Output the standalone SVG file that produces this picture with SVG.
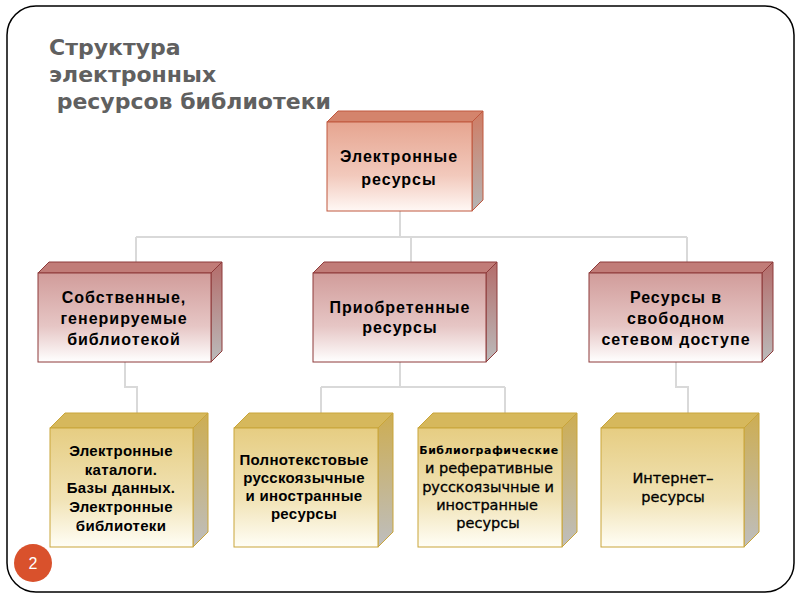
<svg xmlns="http://www.w3.org/2000/svg" width="800" height="600" viewBox="0 0 800 600">
<defs>
<linearGradient id="g0f" x1="0" y1="0" x2="0" y2="1"><stop offset="0" stop-color="#E6A590"/><stop offset="0.6" stop-color="#F2C9BC"/><stop offset="1" stop-color="#FFF8F5"/></linearGradient>
<linearGradient id="g0s" x1="0" y1="0" x2="0" y2="1"><stop offset="0" stop-color="#CF7C64"/><stop offset="1" stop-color="#B5B5B5"/></linearGradient>
<linearGradient id="g1f" x1="0" y1="0" x2="0" y2="1"><stop offset="0" stop-color="#D19C9A"/><stop offset="0.6" stop-color="#E6C6C5"/><stop offset="1" stop-color="#FFFFFF"/></linearGradient>
<linearGradient id="g1s" x1="0" y1="0" x2="0" y2="1"><stop offset="0" stop-color="#B46C6A"/><stop offset="1" stop-color="#BBBBBB"/></linearGradient>
<linearGradient id="g2f" x1="0" y1="0" x2="0" y2="1"><stop offset="0" stop-color="#E6CD82"/><stop offset="0.6" stop-color="#F1E3B6"/><stop offset="1" stop-color="#FFFEF6"/></linearGradient>
<linearGradient id="g2s" x1="0" y1="0" x2="0" y2="1"><stop offset="0" stop-color="#CDAD52"/><stop offset="1" stop-color="#BEBEBE"/></linearGradient>
</defs>
<style>
.frame{fill:#fff;stroke:#000;stroke-width:1.5}
.title{font-family:"DejaVu Sans",sans-serif;font-weight:bold;font-size:22px;fill:#606060}
.conn{fill:none;stroke:#D9D9D9;stroke-width:2}
.t0 .f{fill:url(#g0f)} .t0 .s{fill:url(#g0s)} .t0 .p{fill:#D4846C}
.t0 polygon,.t0 rect{stroke:#C0583F;stroke-width:1}
.t1 .f{fill:url(#g1f)} .t1 .s{fill:url(#g1s)} .t1 .p{fill:#C17C78}
.t1 polygon,.t1 rect{stroke:#8E3B3B;stroke-width:1}
.t2 .f{fill:url(#g2f)} .t2 .s{fill:url(#g2s)} .t2 .p{fill:#D6B85C}
.t2 polygon,.t2 rect{stroke:#C9A53A;stroke-width:1}
.lb{font-family:"Liberation Sans",Arial,sans-serif;font-weight:bold;font-size:16px;fill:#000;text-anchor:middle;letter-spacing:1px}
.lc{font-family:"Liberation Sans",Arial,sans-serif;font-weight:bold;font-size:15px;fill:#000;text-anchor:middle;letter-spacing:0.3px}
.ld{font-family:"DejaVu Sans",sans-serif;font-size:14.5px;fill:#000;stroke:#000;stroke-width:0.3;text-anchor:middle}
.ls{font-family:"DejaVu Sans",sans-serif;font-weight:bold;font-size:11px;fill:#000;text-anchor:middle}
</style>
<rect class="frame" x="7" y="6" width="787" height="586" rx="29" ry="29"/>
<text class="title"><tspan x="49" y="55">Структура</tspan><tspan x="49" y="82">электронных</tspan><tspan x="49" y="109"> ресурсов библиотеки</tspan></text>

<g id="connectors">
<path class="conn" d="M400 211V237M136 237H687M136 237V262M411 237V262M687 237V262"/>
<path class="conn" d="M125 362V387H137V413"/>
<path class="conn" d="M400 362V387M321 387H505M321 387V413M505 387V413"/>
<path class="conn" d="M676 362V387H688V413"/>
</g>

<g id="n0" class="t0">
<polygon class="p" points="327,122 338,111 483,111 472,122"/>
<polygon class="s" points="472,122 483,111 483,200 472,211"/>
<rect class="f" x="327" y="122" width="145" height="89"/>
<text class="lb" font-size="17" letter-spacing="1.3"><tspan x="399" y="162">Электронные</tspan><tspan x="399" y="185">ресурсы</tspan></text>
</g>

<g id="n1" class="t1">
<polygon class="p" points="38,273 49,262 222,262 211,273"/>
<polygon class="s" points="211,273 222,262 222,351 211,362"/>
<rect class="f" x="38" y="273" width="173" height="89"/>
<text class="lb"><tspan x="124" y="303">Собственные,</tspan><tspan x="124" y="324">генерируемые</tspan><tspan x="124" y="345">библиотекой</tspan></text>
</g>

<g id="n2" class="t1">
<polygon class="p" points="313,273 324,262 497,262 486,273"/>
<polygon class="s" points="486,273 497,262 497,351 486,362"/>
<rect class="f" x="313" y="273" width="173" height="89"/>
<text class="lb"><tspan x="400" y="313">Приобретенные</tspan><tspan x="400" y="333">ресурсы</tspan></text>
</g>

<g id="n3" class="t1">
<polygon class="p" points="589,273 600,262 773,262 762,273"/>
<polygon class="s" points="762,273 773,262 773,351 762,362"/>
<rect class="f" x="589" y="273" width="173" height="89"/>
<text class="lb"><tspan x="676" y="303">Ресурсы в</tspan><tspan x="676" y="324">свободном</tspan><tspan x="676" y="345">сетевом доступе</tspan></text>
</g>

<g id="n4" class="t2">
<polygon class="p" points="50,428 65,413 208,413 193,428"/>
<polygon class="s" points="193,428 208,413 208,532 193,547"/>
<rect class="f" x="50" y="428" width="143" height="119"/>
<text class="lc"><tspan x="121" y="456">Электронные</tspan><tspan x="121" y="475">каталоги.</tspan><tspan x="121" y="493">Базы данных.</tspan><tspan x="121" y="512">Электронные</tspan><tspan x="121" y="531">библиотеки</tspan></text>
</g>

<g id="n5" class="t2">
<polygon class="p" points="234,428 249,413 393,413 378,428"/>
<polygon class="s" points="378,428 393,413 393,532 378,547"/>
<rect class="f" x="234" y="428" width="144" height="119"/>
<text class="lc"><tspan x="304" y="465">Полнотекстовые</tspan><tspan x="304" y="483">русскоязычные</tspan><tspan x="304" y="501">и иностранные</tspan><tspan x="304" y="519">ресурсы</tspan></text>
</g>

<g id="n6" class="t2">
<polygon class="p" points="418,428 433,413 577,413 562,428"/>
<polygon class="s" points="562,428 577,413 577,532 562,547"/>
<rect class="f" x="418" y="428" width="144" height="119"/>
<text class="ls" x="489" y="454" letter-spacing="0.5">Библиографические</text>
<text class="ld"><tspan x="489" y="473">и реферативные</tspan><tspan x="488" y="492">русскоязычные и</tspan><tspan x="487" y="510">иностранные</tspan><tspan x="488" y="528">ресурсы</tspan></text>
</g>

<g id="n7" class="t2">
<polygon class="p" points="601,428 616,413 759,413 744,428"/>
<polygon class="s" points="744,428 759,413 759,532 744,547"/>
<rect class="f" x="601" y="428" width="143" height="119"/>
<text class="ld" font-size="15"><tspan x="673" y="483">Интернет–</tspan><tspan x="673" y="502">ресурсы</tspan></text>
</g>

<g id="page">
<circle cx="33" cy="563" r="19" fill="#D9512C"/>
<text x="33" y="569" font-family="Liberation Sans,Arial,sans-serif" font-size="16" fill="#fff" text-anchor="middle">2</text>
</g>
</svg>
